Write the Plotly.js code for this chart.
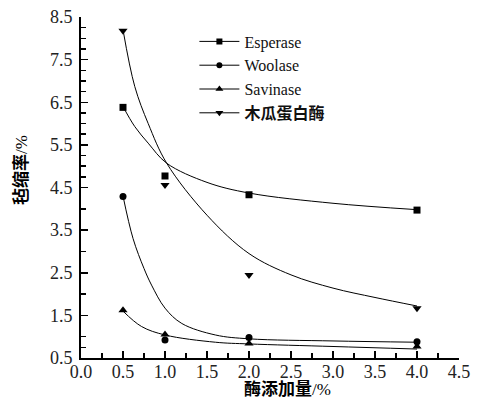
<!DOCTYPE html>
<html>
<head>
<meta charset="utf-8">
<script src="https://cdn.plot.ly/plotly-3.0.1.min.js"></script>
<style>html,body{margin:0;padding:0;background:#fff;}#chart{width:489px;height:405px;}</style>
</head>
<body>
<div id="chart"></div>
<script>
// Measured points (enzyme dosage %, felting shrinkage %)
const dosage = [0.5, 1.0, 2.0, 4.0];
const esperase = [6.38, 4.77, 4.33, 3.97];
const woolase = [4.29, 0.92, 0.98, 0.88];
const savinase = [1.62, 1.05, 0.84, 0.77];
const papain = [8.18, 4.56, 2.45, 1.67];

// Fitted curves
const espCurveX = [0.5, 0.64, 0.8, 1.02, 1.5, 2.0, 3.0, 4.0];
const espCurveY = [6.4, 5.93, 5.54, 5.07, 4.62, 4.37, 4.13, 3.98];
const papCurveX = [0.5, 0.64, 0.8, 1.02, 1.5, 2.0, 2.5, 3.0, 3.5, 4.0];
const papCurveY = [8.2, 6.87, 6.0, 5.07, 3.85, 2.95, 2.45, 2.14, 1.92, 1.72];
const wooCurveX = [0.5, 0.62, 0.75, 0.84, 1.0, 1.2, 1.6, 2.0, 3.0, 4.0];
const wooCurveY = [4.3, 3.3, 2.6, 2.21, 1.67, 1.31, 1.04, 0.95, 0.9, 0.87];
const savCurveX = [0.5, 0.72, 1.0, 1.6, 2.0, 3.0, 4.0];
const savCurveY = [1.6, 1.24, 1.04, 0.87, 0.83, 0.77, 0.71];

const seriesNames = ['Esperase', 'Woolase', 'Savinase', '<b>木瓜蛋白酶</b>'];
const xTickLabels = ['0.0','0.5','1.0','1.5','2.0','2.5','3.0','3.5','4.0','4.5'];
const yTickLabels = ['0.5','1.5','2.5','3.5','4.5','5.5','6.5','7.5','8.5'];
const xTitle = '<b>酶添加量</b>/%';
const yTitle = '<b>毡缩率</b>/%';

const symbols = ['square', 'circle', 'triangle-up', 'triangle-down'];
const msizes = [7, 7, 8, 8];
const pts = [esperase, woolase, savinase, papain];
const curves = [[espCurveX, espCurveY], [wooCurveX, wooCurveY], [savCurveX, savCurveY], [papCurveX, papCurveY]];

const SERIF = 'Liberation Serif, Noto Sans CJK SC';

const traces = [];
for (let i = 0; i < 4; i++) {
  traces.push({x: curves[i][0], y: curves[i][1], mode: 'lines', line: {color: '#000', width: 1, shape: 'spline', smoothing: 1}, showlegend: false, hoverinfo: 'skip'});
  traces.push({x: dosage, y: pts[i], mode: 'markers', marker: {symbol: symbols[i], size: msizes[i], color: '#000'}, showlegend: false});
  traces.push({x: [null], y: [null], mode: 'lines+markers', name: seriesNames[i], line: {color: '#000', width: 1}, marker: {symbol: symbols[i], size: msizes[i] - 1, color: '#000'}, showlegend: true});
}

const xTickVals = xTickLabels.map(Number);
const yTickVals = yTickLabels.map(Number);
const yMinor = [0.75, 1.0, 2.0, 3.0, 4.0, 4.75, 5.0, 5.25, 5.75, 6.0, 6.25, 6.75, 7.0, 7.25, 7.75, 8.0, 8.25];

const layout = {
  width: 489, height: 405,
  margin: {l: 81, r: 30, t: 17, b: 47},
  paper_bgcolor: '#fff', plot_bgcolor: '#fff',
  font: {family: SERIF},
  showlegend: true,
  legend: {x: 0.30, y: 0.978, xanchor: 'left', yanchor: 'top', bgcolor: 'rgba(0,0,0,0)', itemwidth: 40, tracegroupgap: 0,
    font: {family: SERIF, size: 16, color: '#111'}},
  xaxis: {range: [0, 4.5], tickvals: xTickVals, ticktext: xTickLabels, ticks: 'inside', ticklen: 7, tickwidth: 1.5, tickcolor: '#000',
    minor: {dtick: 0.25, tick0: 0, ticks: 'inside', ticklen: 5, tickwidth: 1.5, tickcolor: '#000', showgrid: false},
    showline: true, linewidth: 2, linecolor: '#000', showgrid: false, zeroline: false, mirror: false, ticklabelstandoff: -4,
    tickfont: {family: SERIF, size: 18, color: '#222'}},
  yaxis: {range: [0.5, 8.5], tickvals: yTickVals, ticktext: yTickLabels, ticks: 'inside', ticklen: 7, tickwidth: 1.5, tickcolor: '#000',
    minor: {tickvals: yMinor, ticks: 'inside', ticklen: 5, tickwidth: 1.5, tickcolor: '#000', showgrid: false},
    showline: true, linewidth: 2, linecolor: '#000', showgrid: false, zeroline: false, mirror: false, ticklabelstandoff: 3,
    tickfont: {family: SERIF, size: 18, color: '#222'}},
  annotations: [
    {text: xTitle, xref: 'paper', yref: 'paper', x: (287 - 81) / 378, y: -0.091, xanchor: 'center', yanchor: 'middle', showarrow: false,
      font: {family: SERIF, size: 17, color: '#000'}},
    {text: yTitle, xref: 'paper', yref: 'paper', x: (21 - 81) / 378, y: (358 - 170) / 341, xanchor: 'center', yanchor: 'middle', textangle: -90, showarrow: false,
      font: {family: SERIF, size: 17, color: '#000'}}
  ]
};

Plotly.newPlot('chart', traces, layout, {staticPlot: true, displayModeBar: false});
</script>
</body>
</html>
